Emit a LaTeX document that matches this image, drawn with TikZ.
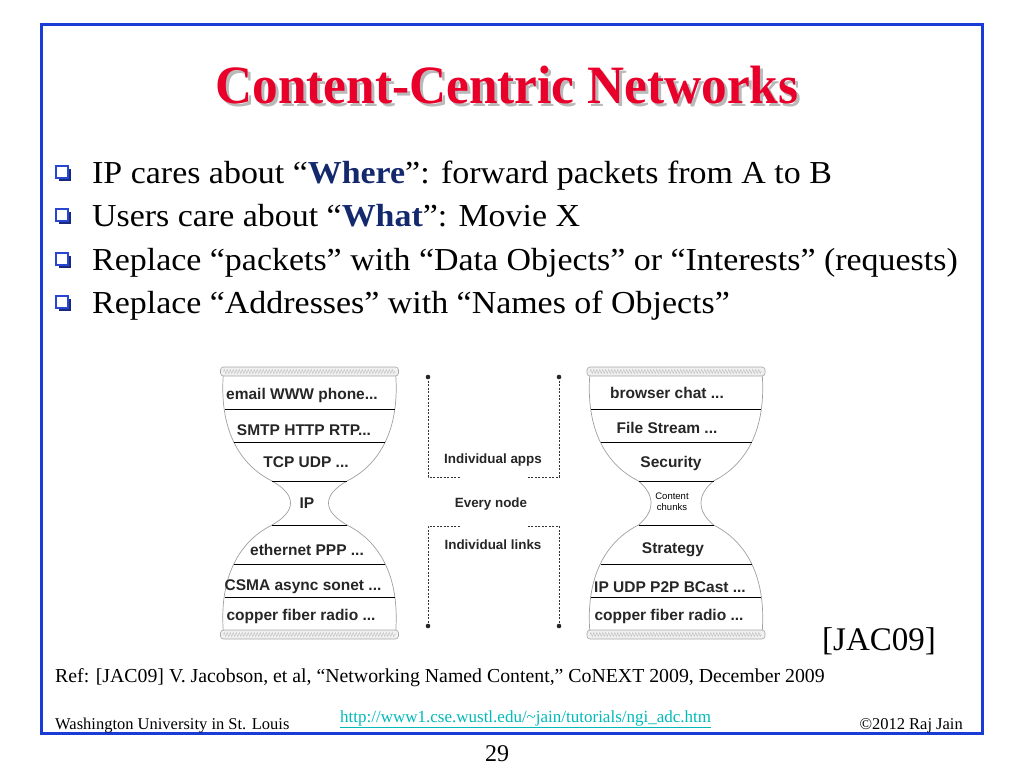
\documentclass[tikz,border=0pt]{standalone}
\usepackage{fontspec}
\setmainfont{Liberation Serif}
\setsansfont{Liberation Sans}
\newfontfamily\titlefont[FakeStretch=0.95]{Liberation Serif}
\newfontfamily\bulletfont[FakeStretch=1.06]{Liberation Serif}
\usetikzlibrary{decorations.pathmorphing, positioning}

\definecolor{framebl}{RGB}{25,60,215}
\definecolor{titlered}{RGB}{232,0,42}
\definecolor{wherebl}{RGB}{20,40,110}
\definecolor{bulletbl}{RGB}{40,70,210}
\definecolor{linkcyan}{RGB}{0,185,185}

\begin{document}
\begin{tikzpicture}[x=1pt, y=-1pt,
  titletxt/.style={font=\titlefont\bfseries\fontsize{54}{62}\selectfont, anchor=base, inner sep=0},
  bullettxt/.style={font=\bulletfont\fontsize{32}{38}\selectfont, anchor=base west, inner sep=0},
  glass/.style={gray!75, line width=0.7},
  layer/.style={black, line width=0.8},
  endbar/.style={draw=gray!70, fill=gray!12, rounded corners=3, line width=0.6},
  laytxt/.style={font=\sffamily\bfseries\fontsize{15.5}{18}\selectfont, text=black!85, inner sep=0},
  midtxt/.style={font=\sffamily\bfseries\fontsize{13.4}{15}\selectfont, text=black!85, inner sep=0},
  brack/.style={black!80, line width=0.7, dash pattern=on 2pt off 1.5pt}]

\useasboundingbox (0,0) rectangle (1024,768);

% Slide frame
        \draw[framebl, line width=3] (41,25) rectangle (982,733);

% Title with shadow
        \node[titletxt, text=gray!55] (titleshadow) at (510,106) {Content-Centric Networks};
        \node[titletxt, text=titlered] (title) at (507,103) {Content-Centric Networks};

% Bullets
        \foreach \by in {183,226,270,313} {
          \fill[bulletbl!60!black] (59,\by-14) rectangle (71,\by-2);
          \filldraw[fill=white, draw=bulletbl, line width=1.4] (56,\by-17) rectangle (68,\by-5);
        }
        \node[bullettxt] (b1) at (92,183) {IP cares about “{\bfseries\color{wherebl}Where}”: forward packets from A to B};
        \node[bullettxt] (b2) at (92,226) {Users care about “{\bfseries\color{wherebl}What}”: Movie X};
        \node[bullettxt] (b3) at (92,270) {Replace “packets” with “Data Objects” or “Interests” (requests)};
        \node[bullettxt] (b4) at (92,313) {Replace “Addresses” with “Names of Objects”};

% Hourglasses
        \foreach \cx/\nk in {309.5/19, 676/25} {
          \draw[glass] ({\cx-86},372) .. controls ({\cx-91},430) and ({\cx-69.5},465) .. ({\cx-37.5},481)
            .. controls ({\cx-37.5+0.65*(37.5-\nk)},488) and ({\cx-\nk},495) .. ({\cx-\nk},503)
            .. controls ({\cx-\nk},511) and ({\cx-37.5+0.65*(37.5-\nk)},518) .. ({\cx-37.5},525)
            .. controls ({\cx-69.5},541) and ({\cx-91},576) .. ({\cx-86},634);
          \draw[glass] ({\cx+86},372) .. controls ({\cx+91},430) and ({\cx+69.5},465) .. ({\cx+37.5},481)
            .. controls ({\cx+37.5-0.65*(37.5-\nk)},488) and ({\cx+\nk},495) .. ({\cx+\nk},503)
            .. controls ({\cx+\nk},511) and ({\cx+37.5-0.65*(37.5-\nk)},518) .. ({\cx+37.5},525)
            .. controls ({\cx+69.5},541) and ({\cx+91},576) .. ({\cx+86},634);
          \foreach \ly/\hw in {409/85, 442/75.5, 481/37.5, 525/37.5, 564/75.5, 597/85} {
            \draw[layer] ({\cx-\hw},\ly) -- ({\cx+\hw},\ly);
          }
          \foreach \ey in {371.5, 634.5} {
            \filldraw[endbar] ({\cx-89},\ey-4.5) rectangle ({\cx+89},\ey+4.5);
            \draw[gray!50, line width=0.4, decorate, decoration={zigzag, segment length=3, amplitude=2}]
              ({\cx-86},\ey) -- ({\cx+86},\ey);
          }
        }

% Left hourglass: IP stack
        \node[laytxt] (left-1) at (302,395) {email WWW phone...};
        \node[laytxt] (left-2) at (304,430) {SMTP HTTP RTP...};
        \node[laytxt] (left-3) at (306,462) {TCP UDP ...};
        \node[laytxt] (left-4) at (307,503) {IP};
        \node[laytxt] (left-5) at (307,550) {ethernet PPP ...};
        \node[laytxt] (left-6) at (303,587) {CSMA async sonet ...};
        \node[laytxt] (left-7) at (301,616) {copper fiber radio ...};

% Right hourglass: CCN stack
        \node[laytxt] (right-1) at (667,393) {browser chat ...};
        \node[laytxt] (right-2) at (667,428) {File Stream ...};
        \node[laytxt] (right-3) at (671,463) {Security};
        \node[font=\sffamily\fontsize{9.5}{11}\selectfont, align=center, inner sep=0] (right-4) at (672,502) {Content\\chunks};
        \node[laytxt] (right-5) at (673,550) {Strategy};
        \node[laytxt] (right-6) at (670,587) {IP UDP P2P BCast ...};
        \node[laytxt] (right-7) at (669,616) {copper fiber radio ...};

% Brackets between the stacks
        \coordinate (tl) at (428,377);  \coordinate (tlc) at (428,477);  \coordinate (tle) at (460,477);
        \coordinate (tr) at (559,377);  \coordinate (trc) at (559,477);  \coordinate (tre) at (528,477);
        \coordinate (bl) at (428,626);  \coordinate (blc) at (428,526);  \coordinate (ble) at (460,526);
        \coordinate (br) at (559,626);  \coordinate (brc) at (559,526);  \coordinate (bre) at (528,526);
        \draw[brack] (tl) -- (tlc) -- (tle);
        \draw[brack] (tr) -- (trc) -- (tre);
        \draw[brack] (bl) -- (blc) -- (ble);
        \draw[brack] (br) -- (brc) -- (bre);
        \foreach \p in {tl,tr,bl,br} {
          \fill[black!85] (\p) circle (2.3);
        }
        \node[midtxt] (apps) at (493,460) {Individual apps};
        \node[midtxt] (every) at (491,504) {Every node};
        \node[midtxt] (links) at (493,545) {Individual links};

% Reference
        \node[anchor=base west, font=\fontsize{33}{38}\selectfont, inner sep=0] (jac) at (822,650) {[JAC09]};
        \node[anchor=base west, font=\fontsize{19.8}{22}\selectfont, inner sep=0] (ref) at (55,682)
          {Ref: [JAC09] V. Jacobson, et al, “Networking Named Content,” CoNEXT 2009, December 2009};

% Footer
        \node[anchor=base west, font=\fontsize{16.5}{19}\selectfont, inner sep=0] (univ) at (55,729) {Washington University in St. Louis};
        \node[anchor=base west, font=\fontsize{17}{19}\selectfont, text=linkcyan, inner sep=0] (url) at (340,722)
          {\underline{http://www1.cse.wustl.edu/\textasciitilde jain/tutorials/ngi\_adc.htm}};
        \node[anchor=base east, font=\fontsize{16.5}{19}\selectfont, inner sep=0] (copy) at (963,729) {©2012 Raj Jain};
        \node[anchor=base, font=\fontsize{24}{28}\selectfont, inner sep=0] (page) at (497,761) {29};

      \end{tikzpicture}
\end{document}
